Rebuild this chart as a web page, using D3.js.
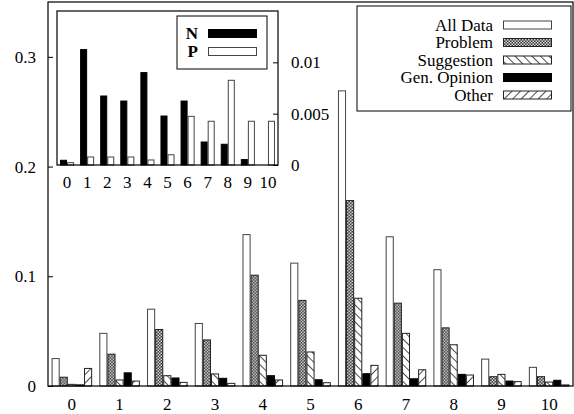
<!DOCTYPE html>
<html><head><meta charset="utf-8">
<script src="https://cdn.jsdelivr.net/npm/d3@7"></script>
<style>
html,body{margin:0;padding:0;background:#fff;}
svg{display:block;}
svg text{font-family:"Liberation Serif","Times New Roman",Times,Tinos,"DejaVu Serif","Noto Serif",serif !important;fill:#000;}
</style></head>
<body><svg id="c" width="574" height="414"></svg>
<script>
const categories = ["0","1","2","3","4","5","6","7","8","9","10"];
const seriesNames = ["All Data","Problem","Suggestion","Gen. Opinion","Other"];
const allData    = [0.025, 0.048, 0.070, 0.057, 0.138, 0.112, 0.269, 0.136, 0.106, 0.0245, 0.017];
const problem    = [0.008, 0.029, 0.0515, 0.042, 0.101, 0.078, 0.169, 0.0755, 0.053, 0.0085, 0.0085];
const suggestion = [0.0015, 0.0055, 0.0094, 0.011, 0.028, 0.031, 0.080, 0.048, 0.0376, 0.0106, 0.0036];
const genOpinion = [0.001, 0.012, 0.0073, 0.007, 0.0094, 0.0057, 0.0112, 0.0066, 0.0106, 0.0045, 0.0052];
const other      = [0.016, 0.0045, 0.0033, 0.0024, 0.0055, 0.003, 0.0188, 0.0148, 0.010, 0.004, 0.001];
const mainTicks  = [0, 0.1, 0.2, 0.3];

const insetNames = ["N","P"];
const insetN = [0.00046, 0.01124, 0.00672, 0.00623, 0.0090, 0.00477, 0.00623, 0.00224, 0.00202, 0.00053, 0];
const insetP = [0.00023, 0.00078, 0.00078, 0.00078, 0.00049, 0.0010, 0.00474, 0.00426, 0.00825, 0.00426, 0.00426];
const insetTicks = [0, 0.005, 0.01];
const insetTickLabels = ["0", "0.005", "0.01"];

const FONT = '"Liberation Serif","Times New Roman",Times,Tinos,"DejaVu Serif",serif';
const svg = d3.select("#c");
const defs = svg.append("defs");
// Problem: dense checker
const pc = defs.append("pattern").attr("id","pCheck").attr("patternUnits","userSpaceOnUse")
  .attr("width",3).attr("height",3);
pc.append("rect").attr("width",3).attr("height",3).attr("fill","#333");
pc.append("rect").attr("x",0).attr("y",0).attr("width",1.5).attr("height",1.5).attr("fill","#ddd");
pc.append("rect").attr("x",1.5).attr("y",1.5).attr("width",1.5).attr("height",1.5).attr("fill","#ddd");
function hatch(id, angle){
  const p = defs.append("pattern").attr("id",id).attr("patternUnits","userSpaceOnUse")
    .attr("width",6).attr("height",6).attr("patternTransform","rotate("+angle+")");
  p.append("rect").attr("width",6).attr("height",6).attr("fill","#fff");
  p.append("line").attr("x1",0).attr("y1",0).attr("x2",0).attr("y2",6).attr("stroke","#000").attr("stroke-width",1.4);
}
hatch("pBack",-45);
hatch("pFwd",45);

const fills = ["#fff","url(#pCheck)","url(#pBack)","#000","url(#pFwd)"];
const strokes = ["#444","#222","#222","#000","#222"];
const seriesData = [allData, problem, suggestion, genOpinion, other];

// ---------- main chart ----------
const L=48, R=573, T=2, B=386;
const x0 = d3.scaleBand().domain(categories).range([L,R]).padding(0);
const gw = x0.bandwidth()*0.85;
const x1 = d3.scaleBand().domain(seriesNames).range([0,gw]).padding(0);
const y = d3.scaleLinear().domain([0,0.35]).range([B,T]);

const main = svg.append("g");
categories.forEach((c,i)=>{
  const g = main.append("g").attr("transform","translate("+(x0(c)+(x0.bandwidth()-gw)/2)+",0)");
  seriesNames.forEach((s,k)=>{
    const v = seriesData[k][i];
    g.append("rect").attr("x",x1(s)+0.5).attr("y",y(v)).attr("width",x1.bandwidth()-1)
      .attr("height",Math.max(0,y(0)-y(v))).attr("fill",fills[k]).attr("stroke",strokes[k]).attr("stroke-width",1);
  });
});

main.append("rect").attr("x",L).attr("y",T).attr("width",R-L).attr("height",B-T)
  .attr("fill","none").attr("stroke","#000").attr("stroke-width",1.2);
const ya = d3.axisLeft(y).tickValues(mainTicks).tickSize(-5).tickPadding(12)
  .tickFormat(d=> d===0 ? "0" : d3.format(".1f")(d));
const yg = main.append("g").attr("transform","translate("+L+",0)").call(ya);
yg.attr("font-family",FONT);
yg.select(".domain").remove();
yg.selectAll("text").attr("font-size",17);
const xa = d3.axisBottom(x0).tickSize(0).tickPadding(12);
const xg = main.append("g").attr("transform","translate(0,"+B+")").call(xa);
xg.attr("font-family",FONT);
xg.select(".domain").remove();
xg.selectAll("text").attr("font-size",17);

const lg = main.append("g").attr("font-family",FONT);
lg.append("rect").attr("x",357).attr("y",6).attr("width",214).attr("height",105)
  .attr("fill","#fff").attr("stroke","#000").attr("stroke-width",1);
seriesNames.forEach((s,k)=>{
  const cy = 25 + k*17.5;
  lg.append("text").attr("x",493).attr("y",cy+5.5).attr("text-anchor","end").attr("font-size",17).text(s);
  lg.append("rect").attr("x",503.5).attr("y",cy-4).attr("width",48).attr("height",8)
    .attr("fill",fills[k]).attr("stroke",strokes[k]).attr("stroke-width",1);
});

// ---------- inset ----------
const iL=57, iR=278, iT=11, iB=165;
const ix0 = d3.scaleBand().domain(categories).range([iL,iR]).padding(0);
const igw = ix0.bandwidth()*0.7;
const ix1 = d3.scaleBand().domain(insetNames).range([0,igw]).padding(0);
const iy = d3.scaleLinear().domain([0,0.015]).range([iB,iT]);
const ins = svg.append("g");
ins.append("rect").attr("x",iL).attr("y",iT).attr("width",iR-iL).attr("height",iB-iT).attr("fill","#fff");
const iData = [insetN, insetP];
const iFill = ["#000","#fff"], iStroke = ["#000","#444"];
categories.forEach((c,i)=>{
  const g = ins.append("g").attr("transform","translate("+(ix0(c)+(ix0.bandwidth()-igw)/2)+",0)");
  insetNames.forEach((s,k)=>{
    const v = iData[k][i];
    if(v<=0) return;
    g.append("rect").attr("x",ix1(s)+0.5).attr("y",iy(v)).attr("width",ix1.bandwidth()-1)
      .attr("height",iy(0)-iy(v)).attr("fill",iFill[k]).attr("stroke",iStroke[k]).attr("stroke-width",1);
  });
});
ins.append("rect").attr("x",iL).attr("y",iT).attr("width",iR-iL).attr("height",iB-iT)
  .attr("fill","none").attr("stroke","#000").attr("stroke-width",1.2);
const iya = d3.axisRight(iy).tickValues(insetTicks).tickSize(-5).tickPadding(13)
  .tickFormat((d,i)=>insetTickLabels[i]);
const iyg = ins.append("g").attr("transform","translate("+iR+",0)").call(iya);
iyg.attr("font-family",FONT);
iyg.select(".domain").remove();
iyg.selectAll("text").attr("font-size",17);
const ixa = d3.axisBottom(ix0).tickSize(0).tickPadding(11);
const ixg = ins.append("g").attr("transform","translate(0,"+iB+")").call(ixa);
ixg.attr("font-family",FONT);
ixg.select(".domain").remove();
ixg.selectAll("text").attr("font-size",17);

const il = ins.append("g").attr("font-family",FONT);
il.append("rect").attr("x",177).attr("y",16).attr("width",90).attr("height",53)
  .attr("fill","#fff").attr("stroke","#000").attr("stroke-width",1);
insetNames.forEach((s,k)=>{
  const cy = 33.5 + k*18;
  il.append("text").attr("x",198).attr("y",cy+5.5).attr("text-anchor","end").attr("font-size",17)
    .attr("font-weight","bold").text(s);
  il.append("rect").attr("x",208.5).attr("y",cy-4).attr("width",48).attr("height",8)
    .attr("fill",iFill[k]).attr("stroke",iStroke[k]).attr("stroke-width",1);
});
</script></body></html>
